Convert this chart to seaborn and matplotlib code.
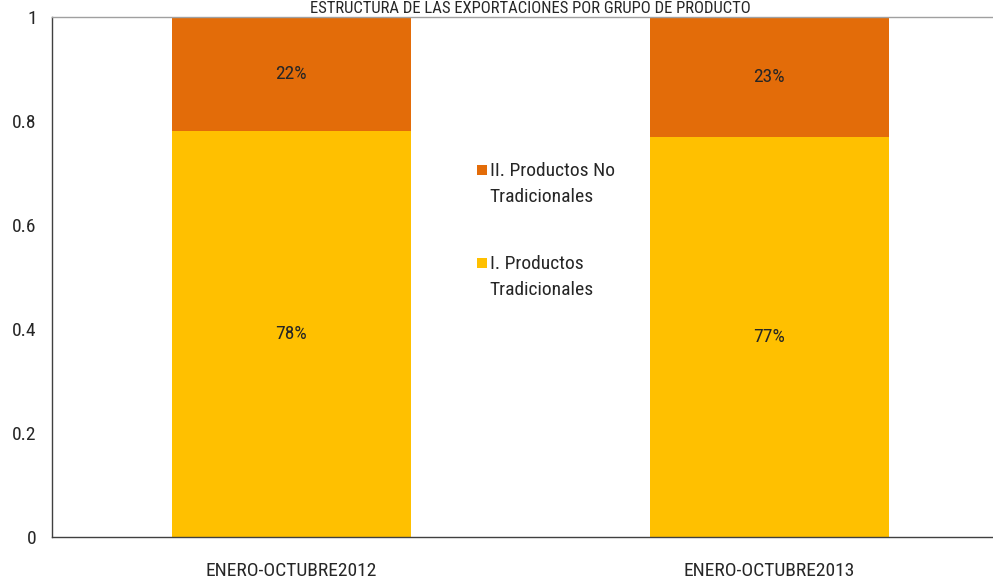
import matplotlib
matplotlib.use("Agg")
import matplotlib.pyplot as plt
import seaborn as sns
import pandas as pd
from matplotlib.ticker import FuncFormatter
from matplotlib.patches import Rectangle
from matplotlib import font_manager

periodos = ["ENERO-OCTUBRE2012", "ENERO-OCTUBRE2013"]
tradicionales = [0.78, 0.77]
no_tradicionales = [0.22, 0.23]
etiquetas_trad = ["78%", "77%"]
etiquetas_no_trad = ["22%", "23%"]
series = ["II. Productos No\nTradicionales", "I. Productos\nTradicionales"]
titulo = "ESTRUCTURA DE LAS EXPORTACIONES POR GRUPO DE PRODUCTO"

sns.set_style("white")

# look for a narrow/condensed face, like Arial Narrow in the original
fam, stretch = "Liberation Sans", "normal"
found = [(f.name, f.stretch) for f in font_manager.fontManager.ttflist]
for name in ["Liberation Sans Narrow", "Arial Narrow", "Roboto Condensed", "Open Sans Condensed"]:
    if any(n == name for n, s in found):
        fam = name
        break
else:
    for name in ["Roboto", "Noto Sans", "Open Sans", "DejaVu Sans"]:
        if any(n == name and s in ("condensed", "semi-condensed", "extra-condensed") for n, s in found):
            fam, stretch = name, "condensed"
            break
plt.rcParams["font.family"] = [fam, "DejaVu Sans"]
plt.rcParams["font.stretch"] = stretch
fs = 14 if fam != "Liberation Sans" else 12

c_trad = "#FFC000"
c_no = "#E36C09"

df = pd.DataFrame({"periodo": periodos,
                   "trad": tradicionales,
                   "total": [a + b for a, b in zip(tradicionales, no_tradicionales)]})

fig = plt.figure(figsize=(9.93, 5.8), dpi=100)
ax = fig.add_axes([52 / 993, 43 / 580, 956 / 993, 520 / 580])

sns.barplot(data=df, x="periodo", y="total", color=c_no, width=0.5,
            saturation=1, ax=ax, edgecolor="none")
sns.barplot(data=df, x="periodo", y="trad", color=c_trad, width=0.5,
            saturation=1, ax=ax, edgecolor="none")

for i in range(len(periodos)):
    ax.text(i, tradicionales[i] / 2, etiquetas_trad[i], ha="center", va="center", fontsize=fs)
    ax.text(i, tradicionales[i] + no_tradicionales[i] / 2, etiquetas_no_trad[i],
            ha="center", va="center", fontsize=fs)

ax.set_xlim(-0.5, 1.5)
ax.set_ylim(0, 1)
ax.set_yticks([0, 0.2, 0.4, 0.6, 0.8, 1])
ax.yaxis.set_major_formatter(FuncFormatter(lambda v, p: f"{v:g}"))
ax.set_xticks([0.5])
ax.set_xticklabels([""])
ax.tick_params(axis="x", direction="out", length=6, color="#404040")
ax.tick_params(axis="y", direction="out", length=5, color="#404040", labelsize=fs, pad=6)
ax.set_xlabel("")
ax.set_ylabel("")
for i, p in enumerate(periodos):
    ax.text(i, -0.065, p, ha="center", va="center", fontsize=fs, clip_on=False)

for s in ["left", "bottom"]:
    ax.spines[s].set_color("#404040")
    ax.spines[s].set_linewidth(1)
ax.spines["top"].set_color("#A0A0A0")
ax.spines["top"].set_linewidth(1)
ax.spines["right"].set_visible(False)

# legend drawn by hand: square beside the first line of each two-line label
leg_y = [0.706, 0.527]
for lab, col, y in zip(series, [c_no, c_trad], leg_y):
    ax.add_patch(Rectangle((0.445, y - 0.009), 0.0095, 0.019, transform=ax.transAxes,
                           facecolor=col, edgecolor="none"))
    ax.text(0.458, y + 0.016, lab, transform=ax.transAxes, ha="left", va="top",
            fontsize=fs, linespacing=1.6)

fig.text(530 / 993, 1 - 1 / 580, titulo, ha="center", va="top", fontsize=12)

fig.savefig("out.png", dpi=100)
